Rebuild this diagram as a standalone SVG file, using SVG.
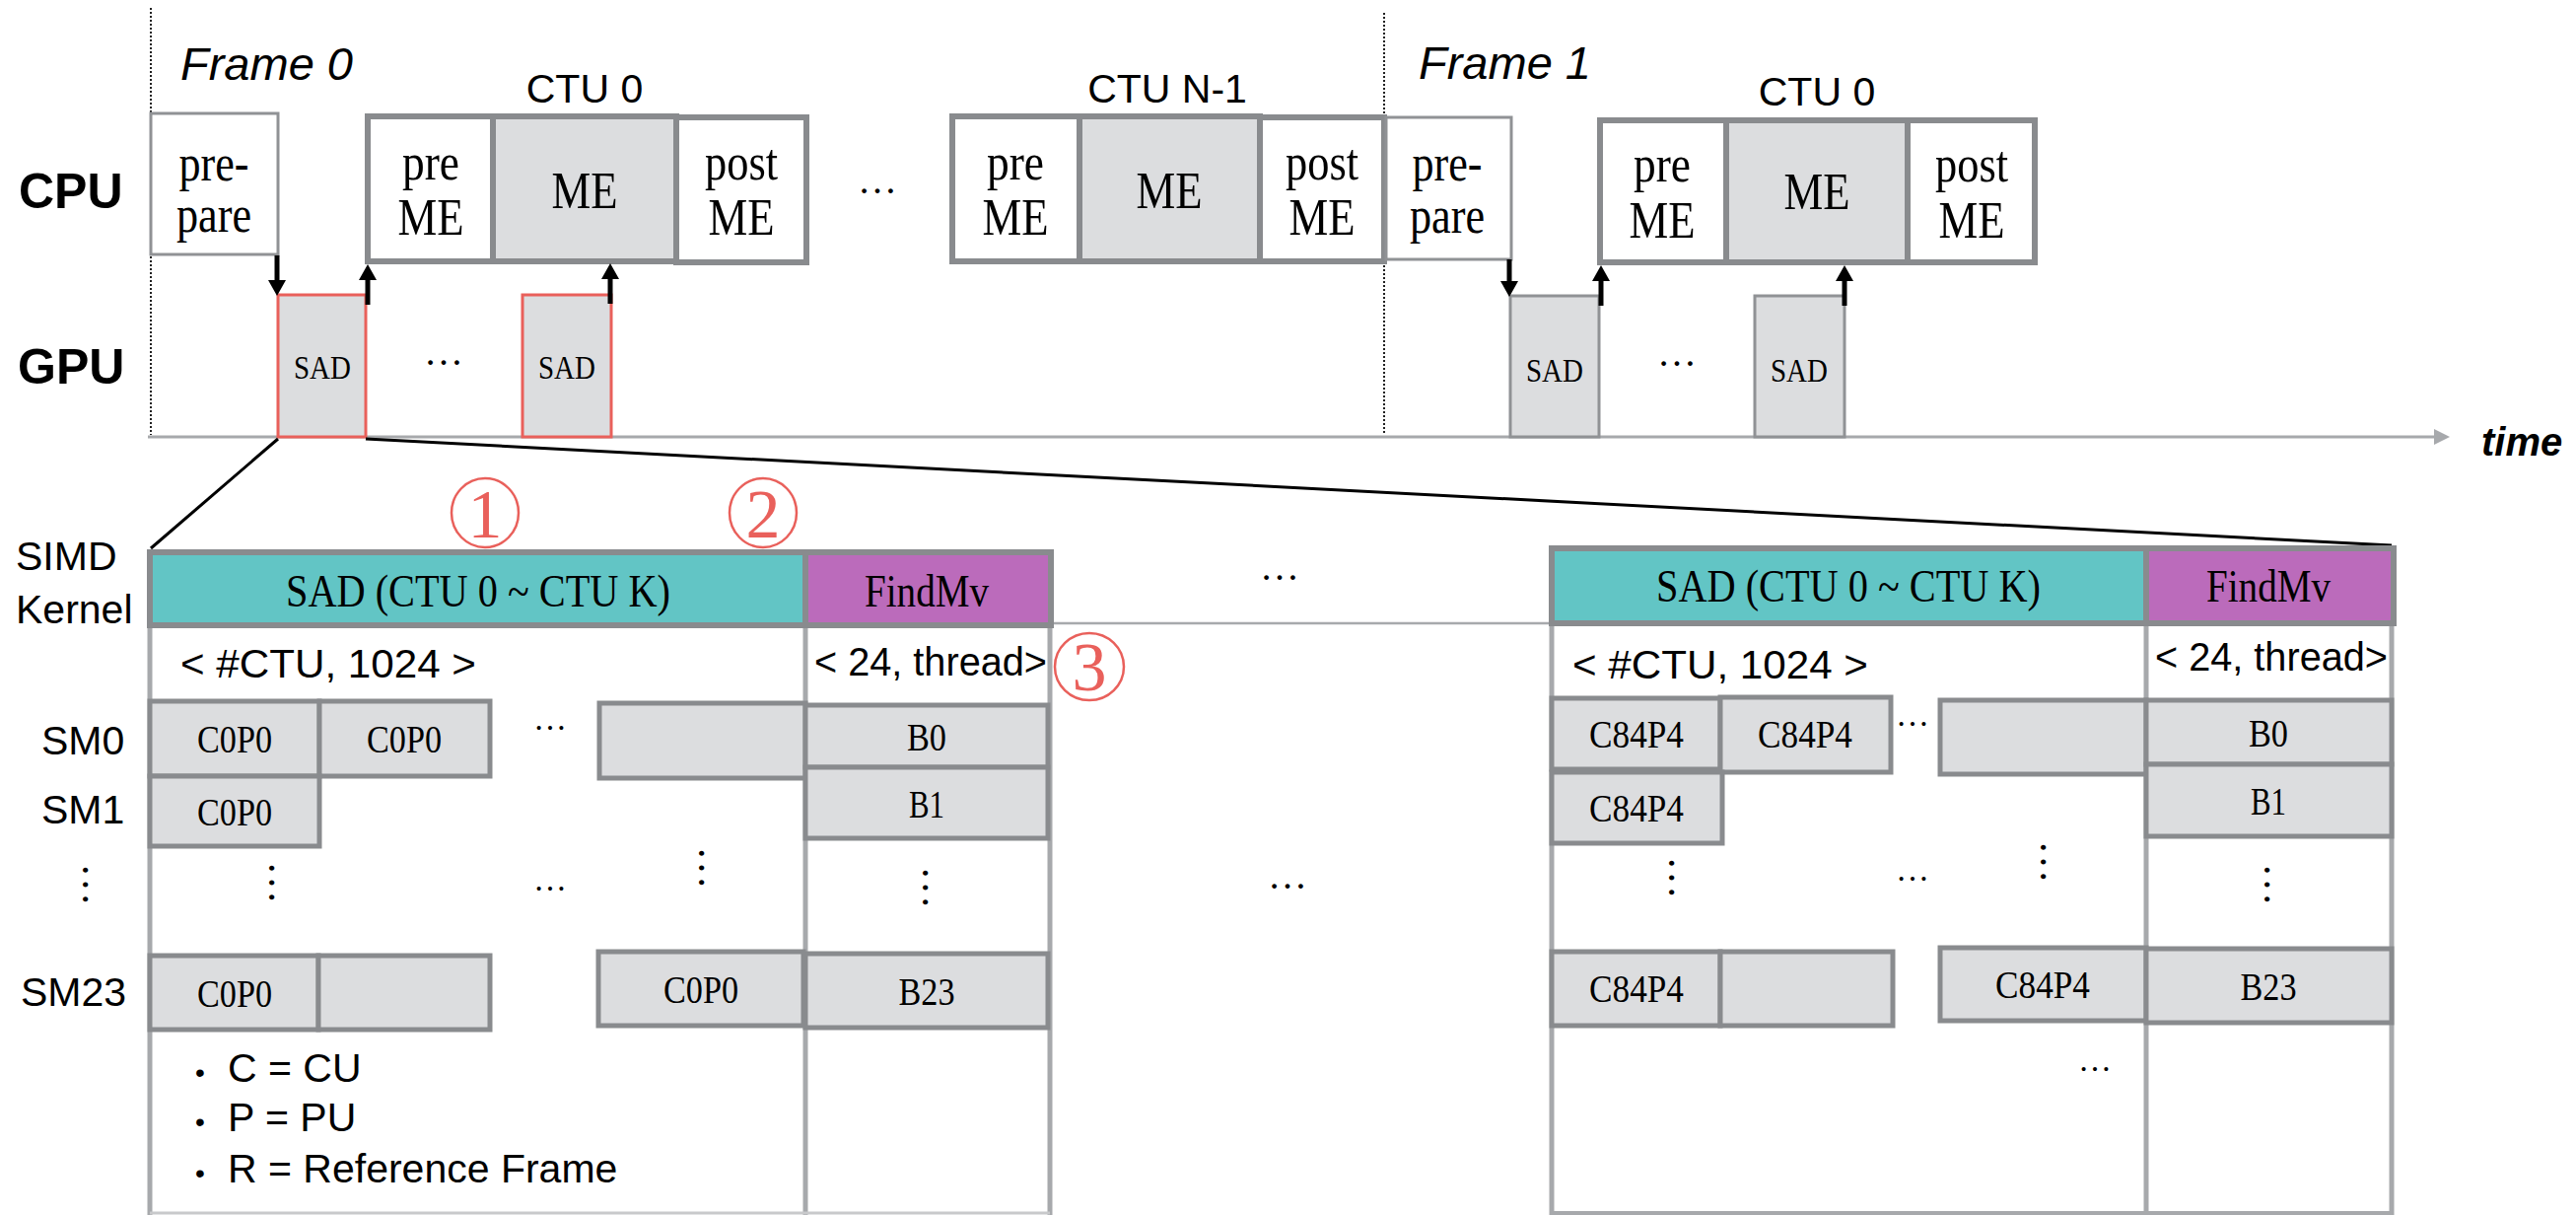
<svg xmlns="http://www.w3.org/2000/svg" width="2613" height="1232" viewBox="0 0 2613 1232">
<defs>
<style>
.sans{font-family:"Liberation Sans",Arial,sans-serif;fill:#000}
.serif{font-family:"Liberation Serif","Times New Roman",serif;fill:#000}
.lbl{font-size:50px;font-weight:bold}
.frame{font-size:47px;font-style:italic}
.ctu{font-size:41px;text-anchor:middle}
.big{font-size:52px;text-anchor:middle}
.sad{font-size:33px;text-anchor:middle}
.hdr{font-size:46px;text-anchor:middle}
.cellt{font-size:41px;text-anchor:middle}
.s41{font-size:41px}
.dots{font-size:40px;text-anchor:middle}
.sdots{font-size:34px;text-anchor:middle}
.vdots{font-size:44px;text-anchor:middle}
.bullet{font-size:28px}
.white{fill:#fff;stroke:#898b8e;stroke-width:6}
.grey{fill:#dcdddf;stroke:#898b8e;stroke-width:6}
.thin{fill:#fff;stroke:#909295;stroke-width:3}
.sadr{fill:#dcdddf;stroke:#e9605b;stroke-width:3}
.sadg{fill:#dcdddf;stroke:#909295;stroke-width:3}
.teal{fill:#62c5c5;stroke:#898b8e;stroke-width:6}
.purple{fill:#bb6bbb;stroke:#898b8e;stroke-width:6}
.cell{fill:#dcdddf;stroke:#898b8e;stroke-width:5}
.tline{stroke:#a7a9ac;stroke-width:5;fill:none}
.dotted{stroke:#222;stroke-width:2;stroke-dasharray:2 2;fill:none}
.arrow{stroke:#000;stroke-width:5;fill:none}
.zoom{stroke:#000;stroke-width:3;fill:none}
.circ{fill:none;stroke:#e9605b;stroke-width:2.5}
.num{font-family:"Liberation Serif",serif;font-size:70px;fill:#e9605b;text-anchor:middle}
</style>
<marker id="ah" markerUnits="userSpaceOnUse" markerWidth="16" markerHeight="18" refX="0" refY="9" orient="auto">
<path d="M0,0 L16,9 L0,18 z" fill="#000"/>
</marker>
</defs>
<rect x="0" y="0" width="2613" height="1232" fill="#fff"/>

<!-- timeline -->
<g id="timeline">
<line class="dotted" x1="153" y1="8" x2="153" y2="441"/>
<line class="dotted" x1="1404" y1="13" x2="1404" y2="441"/>
<line x1="150" y1="443" x2="2470" y2="443" stroke="#a7a9ac" stroke-width="3"/>
<polygon points="2469,435 2485,443 2469,451" fill="#a7a9ac"/>
<text class="sans" x="2517" y="462" font-size="40" font-weight="bold" font-style="italic">time</text>
<text class="sans lbl" x="19" y="211">CPU</text>
<text class="sans lbl" x="18" y="389">GPU</text>
<text class="sans frame" x="183" y="81">Frame 0</text>
<text class="sans frame" x="1439" y="80">Frame 1</text>
</g>

<g id="prepare0">
<rect class="thin" x="153" y="115" width="129" height="143"/>
<text class="serif big" x="217" y="183" textLength="71" lengthAdjust="spacingAndGlyphs">pre-</text>
<text class="serif big" x="217" y="235" textLength="76" lengthAdjust="spacingAndGlyphs">pare</text>
</g>

<g id="ctu0-f0">
<text class="sans ctu" x="593" y="104">CTU 0</text>
<rect class="white" x="373" y="118" width="127" height="147"/>
<rect class="grey" x="500" y="118" width="186" height="147"/>
<rect class="white" x="686" y="119" width="132" height="147"/>
<text class="serif big" x="437" y="182" textLength="58" lengthAdjust="spacingAndGlyphs">pre</text>
<text class="serif big" x="437" y="238" textLength="67" lengthAdjust="spacingAndGlyphs">ME</text>
<text class="serif big" x="593" y="211" textLength="67" lengthAdjust="spacingAndGlyphs">ME</text>
<text class="serif big" x="752" y="182" textLength="74" lengthAdjust="spacingAndGlyphs">post</text>
<text class="serif big" x="752" y="238" textLength="67" lengthAdjust="spacingAndGlyphs">ME</text>
</g>

<text class="serif dots" x="890" y="196">…</text>

<g id="ctuN1-f0">
<text class="sans ctu" x="1184" y="104">CTU N-1</text>
<rect class="white" x="966" y="118" width="129" height="147"/>
<rect class="grey" x="1095" y="118" width="183" height="147"/>
<rect class="white" x="1278" y="119" width="126" height="146"/>
<text class="serif big" x="1030" y="182" textLength="58" lengthAdjust="spacingAndGlyphs">pre</text>
<text class="serif big" x="1030" y="238" textLength="67" lengthAdjust="spacingAndGlyphs">ME</text>
<text class="serif big" x="1186" y="211" textLength="67" lengthAdjust="spacingAndGlyphs">ME</text>
<text class="serif big" x="1341" y="182" textLength="74" lengthAdjust="spacingAndGlyphs">post</text>
<text class="serif big" x="1341" y="238" textLength="67" lengthAdjust="spacingAndGlyphs">ME</text>
</g>

<g id="prepare1">
<rect class="thin" x="1406" y="119" width="127" height="144"/>
<text class="serif big" x="1468" y="183" textLength="71" lengthAdjust="spacingAndGlyphs">pre-</text>
<text class="serif big" x="1468" y="236" textLength="76" lengthAdjust="spacingAndGlyphs">pare</text>
</g>

<g id="ctu0-f1">
<text class="sans ctu" x="1843" y="107">CTU 0</text>
<rect class="white" x="1623" y="122" width="128" height="144"/>
<rect class="grey" x="1751" y="122" width="184" height="144"/>
<rect class="white" x="1935" y="122" width="129" height="144"/>
<text class="serif big" x="1686" y="184" textLength="58" lengthAdjust="spacingAndGlyphs">pre</text>
<text class="serif big" x="1686" y="241" textLength="67" lengthAdjust="spacingAndGlyphs">ME</text>
<text class="serif big" x="1843" y="212" textLength="67" lengthAdjust="spacingAndGlyphs">ME</text>
<text class="serif big" x="2000" y="184" textLength="74" lengthAdjust="spacingAndGlyphs">post</text>
<text class="serif big" x="2000" y="241" textLength="67" lengthAdjust="spacingAndGlyphs">ME</text>
</g>

<g id="sad-f0-first">
<rect class="sadr" x="282" y="299" width="89" height="144"/>
<text class="serif sad" x="327" y="384" textLength="58" lengthAdjust="spacingAndGlyphs">SAD</text>
</g>
<text class="serif dots" x="450" y="370">…</text>
<g id="sad-f0-last">
<rect class="sadr" x="530" y="299" width="90" height="144"/>
<text class="serif sad" x="575" y="384" textLength="58" lengthAdjust="spacingAndGlyphs">SAD</text>
</g>
<g id="sad-f1-first">
<rect class="sadg" x="1532" y="300" width="90" height="143"/>
<text class="serif sad" x="1577" y="387" textLength="58" lengthAdjust="spacingAndGlyphs">SAD</text>
</g>
<text class="serif dots" x="1701" y="371">…</text>
<g id="sad-f1-last">
<rect class="sadg" x="1780" y="300" width="91" height="143"/>
<text class="serif sad" x="1825" y="387" textLength="58" lengthAdjust="spacingAndGlyphs">SAD</text>
</g>

<!-- connectors -->
<g id="connectors">
<line class="arrow" x1="281" y1="259" x2="281" y2="284" marker-end="url(#ah)"/>
<line class="arrow" x1="373" y1="309" x2="373" y2="284" marker-end="url(#ah)"/>
<line class="arrow" x1="619" y1="308" x2="619" y2="283" marker-end="url(#ah)"/>
<line class="arrow" x1="1531" y1="263" x2="1531" y2="285" marker-end="url(#ah)"/>
<line class="arrow" x1="1624" y1="310" x2="1624" y2="285" marker-end="url(#ah)"/>
<line class="arrow" x1="1871" y1="310" x2="1871" y2="285" marker-end="url(#ah)"/>
<line class="zoom" x1="282" y1="445" x2="153" y2="556"/>
<line class="zoom" x1="371" y1="445" x2="2426" y2="553"/>
<line x1="1066" y1="632" x2="1574" y2="632" stroke="#a7a9ac" stroke-width="2.5"/>
</g>

<!-- bottom labels -->
<g id="row-labels">
<text class="sans s41" x="16" y="578">SIMD</text>
<text class="sans s41" x="16" y="632">Kernel</text>
<text class="sans s41" x="42" y="765">SM0</text>
<text class="sans s41" x="42" y="835">SM1</text>
<text class="serif vdots" transform="translate(84,897) rotate(90)">…</text>
<text class="sans s41" x="21" y="1020">SM23</text>
</g>

<!-- left kernel table -->
<g id="kernel-left">
<line class="tline" x1="152" y1="560" x2="152" y2="1232"/>
<line class="tline" x1="817" y1="560" x2="817" y2="1232"/>
<line class="tline" x1="1065" y1="560" x2="1065" y2="1232"/>
<line x1="152" y1="1230" x2="1065" y2="1230" stroke="#c8c9cb" stroke-width="3"/>
<rect class="teal" x="152" y="560" width="665" height="74"/>
<rect class="purple" x="817" y="560" width="249" height="74"/>
<text class="serif hdr" x="485" y="615" textLength="390" lengthAdjust="spacingAndGlyphs">SAD (CTU 0 ~ CTU K)</text>
<text class="serif hdr" x="940" y="615" textLength="126" lengthAdjust="spacingAndGlyphs">FindMv</text>
<text class="sans s41" x="183" y="687" textLength="300" lengthAdjust="spacingAndGlyphs">&lt; #CTU, 1024 &gt;</text>
<text class="sans s41" x="944" y="685" text-anchor="middle" textLength="236" lengthAdjust="spacingAndGlyphs">&lt; 24, thread&gt;</text>
<rect class="cell" x="152" y="711" width="172" height="76"/>
<text class="serif cellt" x="238" y="763" textLength="76" lengthAdjust="spacingAndGlyphs">C0P0</text>
<rect class="cell" x="324" y="711" width="173" height="76"/>
<text class="serif cellt" x="410" y="763" textLength="76" lengthAdjust="spacingAndGlyphs">C0P0</text>
<text class="serif sdots" x="558" y="740">…</text>
<rect class="cell" x="608" y="713" width="209" height="76"/>
<rect class="cell" x="152" y="787" width="172" height="71"/>
<text class="serif cellt" x="238" y="837" textLength="76" lengthAdjust="spacingAndGlyphs">C0P0</text>
<text class="serif vdots" transform="translate(273,895) rotate(90)">…</text>
<text class="serif sdots" x="558" y="903">…</text>
<text class="serif vdots" transform="translate(709,880) rotate(90)">…</text>
<text class="serif vdots" transform="translate(936,900) rotate(90)">…</text>
<rect class="cell" x="152" y="969" width="171" height="75"/>
<text class="serif cellt" x="238" y="1021" textLength="76" lengthAdjust="spacingAndGlyphs">C0P0</text>
<rect class="cell" x="323" y="969" width="174" height="75"/>
<rect class="cell" x="607" y="965" width="208" height="75"/>
<text class="serif cellt" x="711" y="1017" textLength="76" lengthAdjust="spacingAndGlyphs">C0P0</text>
<rect class="cell" x="817" y="715" width="246" height="63"/>
<text class="serif cellt" x="940" y="761" textLength="40" lengthAdjust="spacingAndGlyphs">B0</text>
<rect class="cell" x="817" y="778" width="246" height="72"/>
<text class="serif cellt" x="940" y="829" textLength="36" lengthAdjust="spacingAndGlyphs">B1</text>
<rect class="cell" x="817" y="967" width="246" height="75"/>
<text class="serif cellt" x="940" y="1019" textLength="57" lengthAdjust="spacingAndGlyphs">B23</text>
</g>

<g id="markers">
<ellipse class="circ" cx="492" cy="520" rx="34" ry="35"/>
<text class="num" x="492" y="545">1</text>
<ellipse class="circ" cx="774" cy="520" rx="34" ry="35"/>
<text class="num" x="774" y="545">2</text>
<ellipse class="circ" cx="1105" cy="676" rx="35" ry="34"/>
<text class="num" x="1105" y="700">3</text>
</g>

<g id="legend">
<text class="sans bullet" x="198" y="1097">•</text>
<text class="sans s41" x="231" y="1097">C = CU</text>
<text class="sans bullet" x="198" y="1147">•</text>
<text class="sans s41" x="231" y="1147">P = PU</text>
<text class="sans bullet" x="198" y="1199">•</text>
<text class="sans s41" x="231" y="1199">R = Reference Frame</text>
</g>

<g id="between">
<text class="serif dots" x="1298" y="588">…</text>
<text class="serif dots" x="1306" y="901">…</text>
</g>

<!-- right kernel table -->
<g id="kernel-right">
<line class="tline" x1="1574" y1="556" x2="1574" y2="1232"/>
<line class="tline" x1="2177" y1="556" x2="2177" y2="1232"/>
<line class="tline" x1="2426" y1="556" x2="2426" y2="1232"/>
<line x1="1574" y1="1230" x2="2426" y2="1230" stroke="#a7a9ac" stroke-width="4"/>
<rect class="teal" x="1574" y="556" width="603" height="76"/>
<rect class="purple" x="2177" y="556" width="251" height="76"/>
<text class="serif hdr" x="1875" y="610" textLength="390" lengthAdjust="spacingAndGlyphs">SAD (CTU 0 ~ CTU K)</text>
<text class="serif hdr" x="2301" y="610" textLength="126" lengthAdjust="spacingAndGlyphs">FindMv</text>
<text class="sans s41" x="1595" y="688" textLength="300" lengthAdjust="spacingAndGlyphs">&lt; #CTU, 1024 &gt;</text>
<text class="sans s41" x="2304" y="680" text-anchor="middle" textLength="236" lengthAdjust="spacingAndGlyphs">&lt; 24, thread&gt;</text>
<rect class="cell" x="1574" y="708" width="171" height="72"/>
<text class="serif cellt" x="1660" y="758" textLength="96" lengthAdjust="spacingAndGlyphs">C84P4</text>
<rect class="cell" x="1745" y="707" width="173" height="76"/>
<text class="serif cellt" x="1831" y="758" textLength="96" lengthAdjust="spacingAndGlyphs">C84P4</text>
<text class="serif sdots" x="1940" y="736">…</text>
<rect class="cell" x="1968" y="710" width="209" height="75"/>
<rect class="cell" x="1574" y="783" width="173" height="72"/>
<text class="serif cellt" x="1660" y="833" textLength="96" lengthAdjust="spacingAndGlyphs">C84P4</text>
<text class="serif vdots" transform="translate(1693,890) rotate(90)">…</text>
<text class="serif sdots" x="1940" y="893">…</text>
<text class="serif vdots" transform="translate(2070,874) rotate(90)">…</text>
<text class="serif vdots" transform="translate(2297,897) rotate(90)">…</text>
<rect class="cell" x="1574" y="965" width="171" height="75"/>
<text class="serif cellt" x="1660" y="1016" textLength="96" lengthAdjust="spacingAndGlyphs">C84P4</text>
<rect class="cell" x="1745" y="965" width="175" height="75"/>
<rect class="cell" x="1968" y="961" width="209" height="74"/>
<text class="serif cellt" x="2072" y="1012" textLength="96" lengthAdjust="spacingAndGlyphs">C84P4</text>
<text class="serif sdots" x="2125" y="1086">…</text>
<rect class="cell" x="2177" y="710" width="249" height="65"/>
<text class="serif cellt" x="2301" y="757" textLength="40" lengthAdjust="spacingAndGlyphs">B0</text>
<rect class="cell" x="2177" y="775" width="249" height="73"/>
<text class="serif cellt" x="2301" y="826" textLength="36" lengthAdjust="spacingAndGlyphs">B1</text>
<rect class="cell" x="2177" y="962" width="249" height="75"/>
<text class="serif cellt" x="2301" y="1014" textLength="57" lengthAdjust="spacingAndGlyphs">B23</text>
</g>
</svg>
